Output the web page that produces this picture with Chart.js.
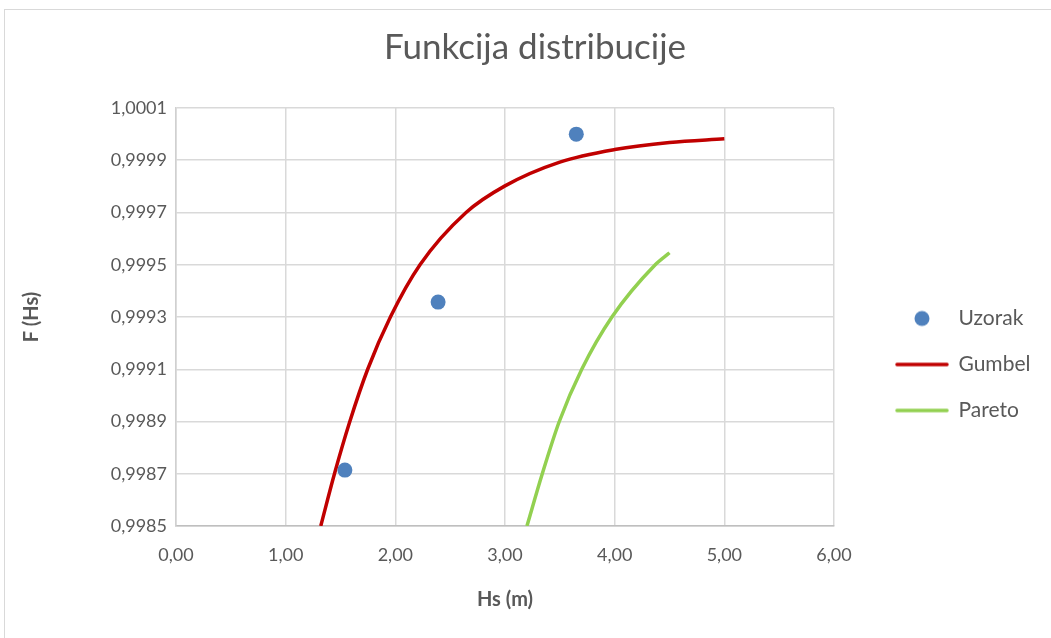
<!DOCTYPE html>
<html>
<head>
<meta charset="utf-8">
<script src="https://cdn.jsdelivr.net/npm/chart.js@4"></script>
<style>
  html, body { margin: 0; padding: 0; background: #fff; overflow: hidden; }
  #frame { position: absolute; left: 4px; top: 9px; width: 1047px; height: 629px; border-left: 1px solid #d9d9d9; border-top: 1px solid #d9d9d9; }
  #c { display: block; }
</style>
</head>
<body>
<div id="frame"><canvas id="c" width="1047" height="629"></canvas></div>
<script>
// ---- data ----
const uzorakX = [1.54, 2.39, 3.65];
const uzorakY = [0.998714, 0.999357, 1.0000];

const gumbelX = [1.32, 1.445, 1.585, 1.748, 1.955, 2.225, 2.645, 3.0, 3.5, 4.0, 4.5, 5.0];
const gumbelY = [0.9985, 0.9987, 0.9989, 0.9991, 0.9993, 0.9995, 0.9997, 0.999802, 0.999893, 0.999941, 0.999968, 0.999982];

const paretoX = [3.20, 3.34, 3.495, 3.70, 3.975, 4.37, 4.50];
const paretoY = [0.9985, 0.9987, 0.9989, 0.9991, 0.9993, 0.9995, 0.999546];

const seriesNames = ['Uzorak', 'Gumbel', 'Pareto'];
const chartTitle = 'Funkcija distribucije';
const xTitle = 'Hs (m)';
const yTitle = 'F (Hs)';
const xMin = 0, xMax = 6, xStep = 1;
const yMin = 0.9985, yMax = 1.0001, yStep = 0.0002;

const colBlue = '#4f81bd', colRed = '#c00000', colGreen = '#92d050', textCol = '#595959';

function pts(xs, ys) { return xs.map((x, i) => ({ x: x, y: ys[i] })); }

// legend marker canvases
function mkMarker(kind, color) {
  const cv = document.createElement('canvas');
  cv.width = 54; cv.height = 18;
  const g = cv.getContext('2d');
  if (kind === 'dot') {
    g.fillStyle = color; g.beginPath(); g.arc(27, 9, 7.5, 0, Math.PI * 2); g.fill();
  } else {
    g.strokeStyle = color; g.lineWidth = 3.5; g.lineCap = 'round';
    g.beginPath(); g.moveTo(2, 9); g.lineTo(52, 9); g.stroke();
  }
  return cv;
}
const markers = [mkMarker('dot', colBlue), mkMarker('line', colRed), mkMarker('line', colGreen)];

const fmt = (v, d) => Number(v).toFixed(d).replace('.', ',');

new Chart(document.getElementById('c'), {
  type: 'scatter',
  data: {
    datasets: [
      { label: seriesNames[0], data: pts(uzorakX, uzorakY), backgroundColor: colBlue, borderColor: colBlue,
        pointRadius: 7.5, pointHoverRadius: 7.5, borderWidth: 0, showLine: false, order: 0 },
      { label: seriesNames[1], data: pts(gumbelX, gumbelY), borderColor: colRed, backgroundColor: colRed,
        showLine: true, pointRadius: 0, borderWidth: 3.5, cubicInterpolationMode: 'monotone', order: 1 },
      { label: seriesNames[2], data: pts(paretoX, paretoY), borderColor: colGreen, backgroundColor: colGreen,
        showLine: true, pointRadius: 0, borderWidth: 3.5, cubicInterpolationMode: 'monotone', order: 2 }
    ]
  },
  options: {
    responsive: false,
    animation: false,
    devicePixelRatio: 1,
    layout: { padding: { left: 26, right: 13, top: 0, bottom: 0 } },
    plugins: {
      tooltip: { enabled: false },
      title: {
        display: true, text: chartTitle, color: textCol,
        font: { family: 'Lato', size: 35, weight: '400' },
        padding: { top: 17, bottom: 39 }
      },
      legend: {
        position: 'right', align: 'center',
        title: { display: true, text: '', font: { size: 10, lineHeight: 1 }, padding: { top: 70, bottom: 0 } },
        labels: {
          usePointStyle: true, pointStyleWidth: 52, padding: 25, color: textCol,
          font: { family: 'Lato', size: 21 },
          generateLabels: (chart) => seriesNames.map((n, i) => ({
            text: n, pointStyle: markers[i], fillStyle: 'rgba(0,0,0,0)', strokeStyle: 'rgba(0,0,0,0)',
            lineWidth: 0, hidden: false, datasetIndex: i, fontColor: textCol
          }))
        }
      }
    },
    scales: {
      x: {
        type: 'linear', min: xMin, max: xMax,
        ticks: { stepSize: xStep, color: textCol, padding: 18, font: { family: 'Lato', size: 18 },
                 callback: (v) => fmt(v, 2) },
        grid: { color: '#d9d9d9', lineWidth: 1.5, drawTicks: false },
        border: { color: '#bfbfbf', width: 1.5 },
        title: { display: true, text: xTitle, color: textCol, font: { family: 'Lato', size: 20, weight: 'bold' },
                 padding: { top: 0, bottom: 27 } },
        afterFit: (s) => { s.height = 113; }
      },
      y: {
        type: 'linear', min: yMin, max: yMax,
        ticks: { stepSize: yStep, color: textCol, padding: 9, font: { family: 'Lato', size: 18 },
                 callback: (v) => fmt(v, 4) },
        grid: { color: '#d9d9d9', lineWidth: 1.5, drawTicks: false },
        border: { color: '#d0d0d0', width: 1.5 },
        title: { display: true, text: yTitle, color: textCol, font: { family: 'Lato', size: 20, weight: 'bold' },
                 padding: { top: -11, bottom: 0 } },
        afterFit: (s) => { s.width = 145; }
      },
      yR: {
        type: 'linear', position: 'right', display: true,
        grid: { display: false }, border: { display: false }, ticks: { display: false },
        afterFit: (s) => { s.width = 37; }
      }
    }
  }
});
</script>
</body>
</html>
